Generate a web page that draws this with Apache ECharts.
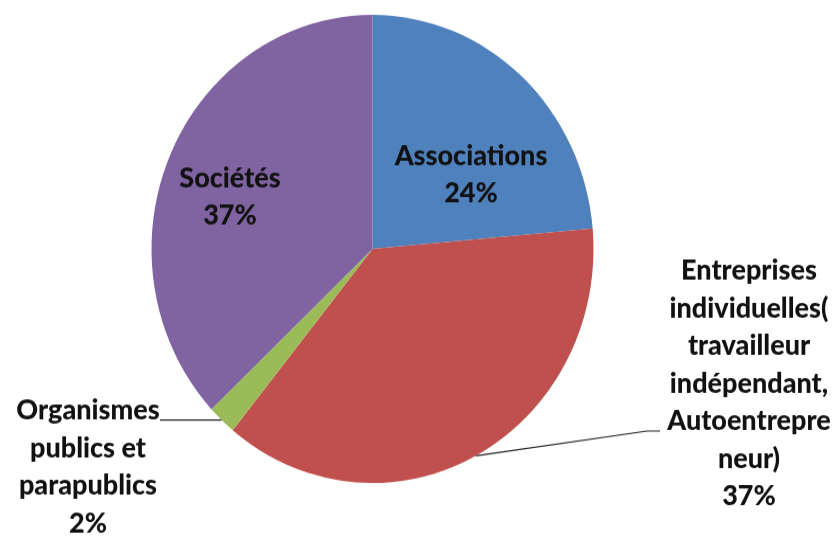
<!DOCTYPE html>
<html>
<head>
<meta charset="utf-8">
<script src="https://cdn.jsdelivr.net/npm/echarts@6/dist/echarts.min.js"></script>
<style>
html,body{margin:0;padding:0;background:#fff;overflow:hidden;width:840px;height:538px;}
#main{width:840px;height:538px;transform:scaleY(1.059);transform-origin:0 0;}
</style>
</head>
<body>
<div id="main"></div>
<script>
// Data
const categories = ['Associations', 'Entreprises individuelles( travailleur indépendant, Autoentrepreneur)', 'Organismes publics et parapublics', 'Sociétés'];
const labelTexts = ['Associations', 'Entreprises\nindividuelles(\ntravailleur\nindépendant,\nAutoentrepre\nneur)', 'Organismes\npublics et\nparapublics', 'Sociétés'];
const values = [23.6, 37.3, 2.1, 37.0];
const colors = ['#4F81BD', '#C0504D', '#9BBB59', '#8064A2'];

// Label placement (layout/style, not data)
const labelPos = [
  {x: 471, y: 165},
  {x: 749, y: 362, line: [[647, 407], [660, 407]]},
  {x: 88, y: 441, line: [[170, null], [160, null]]},
  {x: 230, y: 186}
];
const inside = [true, false, false, true];

const chart = echarts.init(document.getElementById('main'));
chart.setOption({
  animation: false,
  series: [{
    type: 'pie',
    center: [372.5, 235.1],
    radius: 221,
    startAngle: 90,
    clockwise: true,
    avoidLabelOverlap: false,
    percentPrecision: 0,
    label: {
      show: true,
      color: '#111',
      fontFamily: 'Lato',
      fontWeight: 900,
      fontSize: 27,
      lineHeight: 35.5,
      align: 'center',
      overflow: 'none',
      formatter: p => labelTexts[p.dataIndex] + '\n' + p.percent + '%'
    },
    labelLine: {
      show: true,
      length: 0,
      length2: 0,
      smooth: false,
      lineStyle: {color: '#222', width: 1.2}
    },
    labelLayout: function (params) {
      const lp = labelPos[params.dataIndex];
      const out = {x: lp.x, y: lp.y, align: 'center', verticalAlign: 'middle'};
      if (lp.line && params.labelLinePoints) {
        const p0 = params.labelLinePoints[0];
        out.labelLinePoints = [p0].concat(lp.line.map(pt => [pt[0], pt[1] == null ? p0[1] : pt[1]]));
      }
      return out;
    },
    data: categories.map((c, i) => ({
      name: c,
      value: values[i],
      itemStyle: {color: colors[i]},
      label: {position: inside[i] ? 'inside' : 'outside'},
      labelLine: {show: !inside[i]}
    }))
  }]
});
</script>
</body>
</html>
